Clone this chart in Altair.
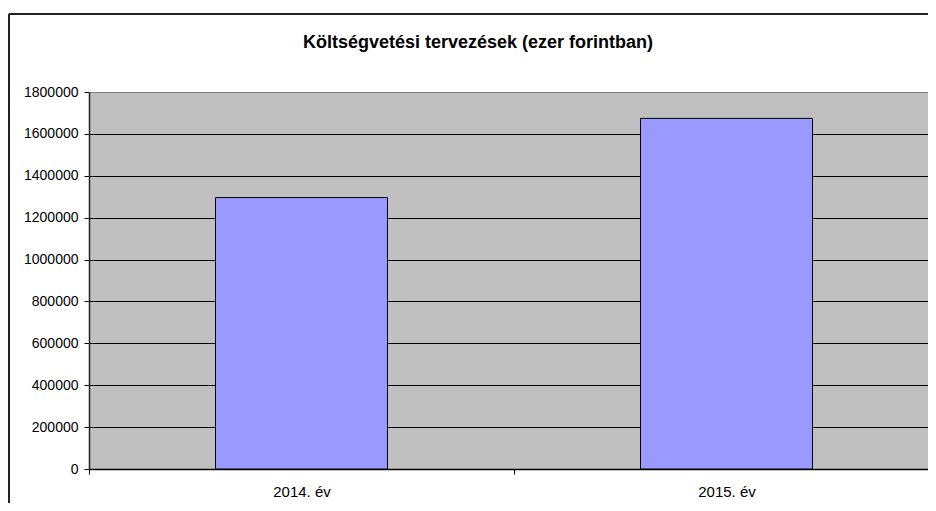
import altair as alt
import pandas as pd

categories = ["2014. év", "2015. év"]
values = [1296000, 1674000]
title_text = ["Költségvetési tervezések (ezer forintban)"]
y_ticks = [0, 200000, 400000, 600000, 800000, 1000000, 1200000, 1400000, 1600000, 1800000]

df = pd.DataFrame({"cat": categories, "val": values})
FONT = "Liberation Sans"
W, H = 839, 377

bars = alt.Chart(df).mark_bar(size=172, color="#9999ff", stroke="#000000", strokeWidth=1).encode(
    x=alt.X("cat:N", sort=categories, title=None,
            scale=alt.Scale(paddingInner=0, paddingOuter=0, range=[0, 850]),
            axis=alt.Axis(labelAngle=0, labelFont=FONT, labelFontSize=15, labelColor="#000000",
                          tickBand="extent", ticks=True, tickSize=5, tickColor="#000000",
                          domainColor="#000000", domainWidth=1.5, labelPadding=10, grid=False)),
    y=alt.Y("val:Q", title=None,
            scale=alt.Scale(domain=[0, 1800000], nice=False),
            axis=alt.Axis(values=y_ticks, format="d", labelFont=FONT, labelFontSize=14,
                          labelColor="#000000", tickSize=5, tickColor="#000000",
                          domainColor="#222222", domainWidth=1.5, labelPadding=6,
                          grid=True,
                          gridColor={"condition": {"test": "datum.value >= 1800000", "value": "#808080"},
                                     "value": "#000000"},
                          gridWidth=1, gridOpacity=1)),
)

title = alt.Chart(pd.DataFrame({"t": title_text})).mark_text(
    font=FONT, fontSize=18, fontWeight="bold", color="#000000", align="center", baseline="alphabetic"
).encode(x=alt.value(389), y=alt.value(-44), text="t:N")

deco = pd.DataFrame({"a": [0]})
left = alt.Chart(deco).mark_rule(color="#222222", strokeWidth=2).encode(
    x=alt.value(-80), y=alt.value(-78), y2=alt.value(500))
top = alt.Chart(deco).mark_rule(color="#222222", strokeWidth=2).encode(
    x=alt.value(-80), x2=alt.value(900), y=alt.value(-78))

chart = alt.layer(bars, title, left, top).properties(
    width=W, height=H,
    padding={"left": 81, "top": 84, "right": 0, "bottom": 34},
    autosize=alt.AutoSizeParams(type="none"),
    background="#ffffff",
).configure_view(fill="#c0c0c0", stroke="transparent", strokeWidth=0)

chart.save("out.html", embed_options={"renderer": "svg", "actions": False})
